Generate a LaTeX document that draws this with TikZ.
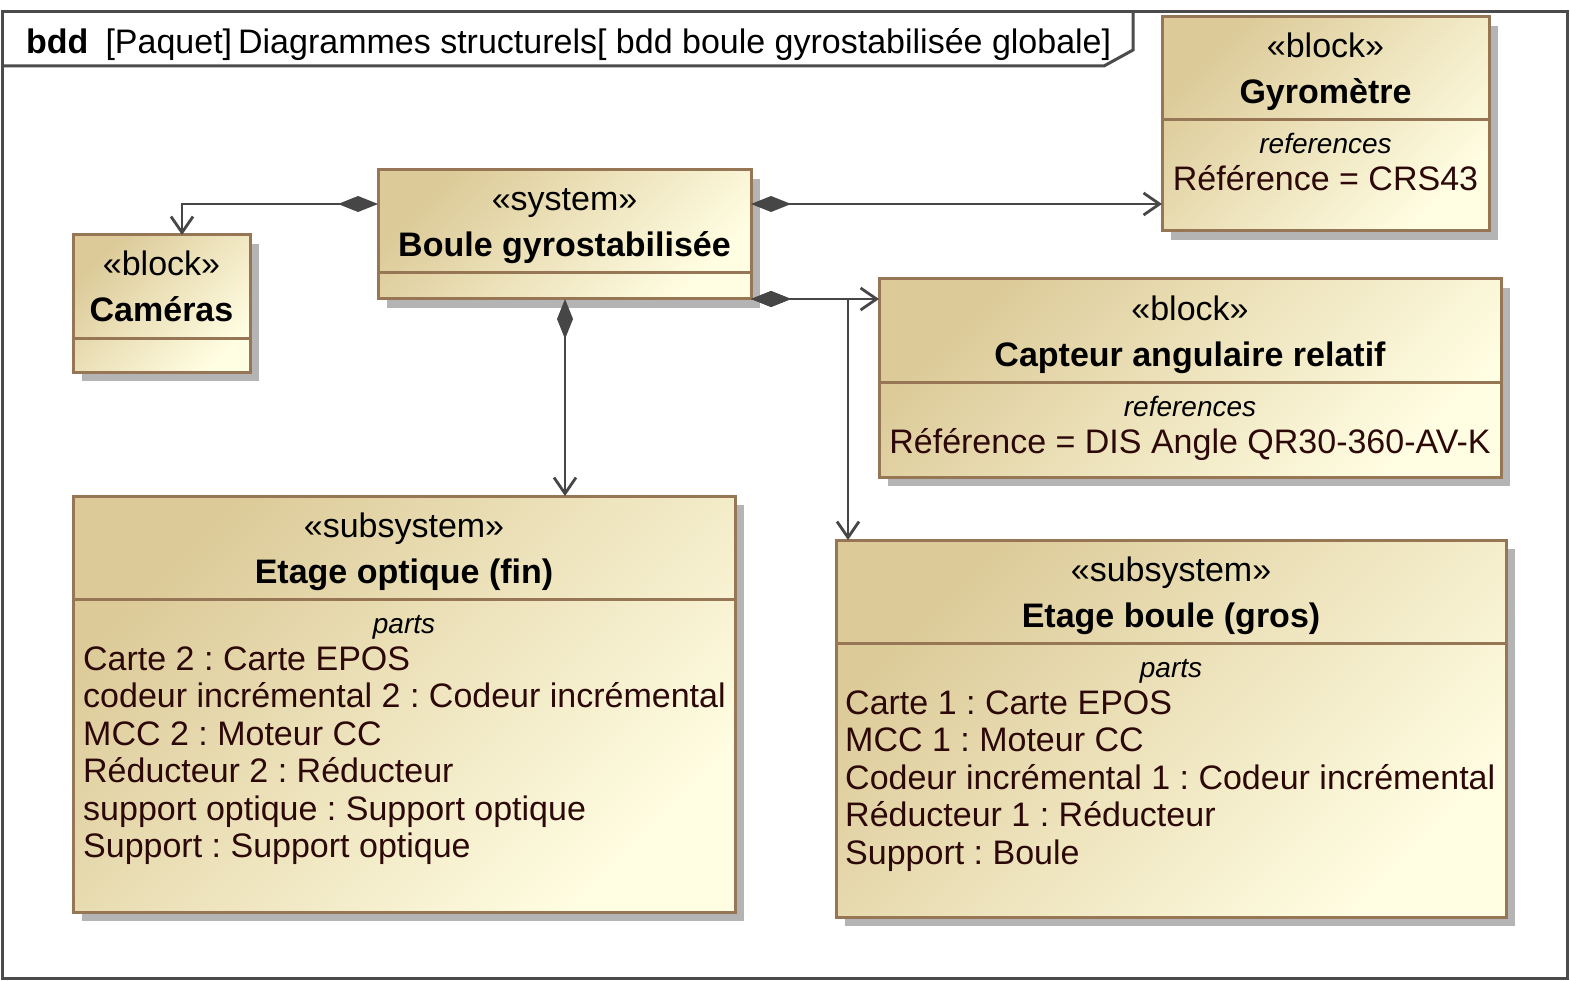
\documentclass[tikz,border=0pt]{standalone}
\usepackage{fontspec}
\setmainfont{Liberation Sans}
\usetikzlibrary{arrows.meta,shadows,calc}
\definecolor{tanA}{RGB}{220,202,152}
\definecolor{creamB}{RGB}{255,253,226}
\definecolor{brownline}{RGB}{150,118,84}
\definecolor{frameline}{RGB}{75,75,75}
\definecolor{conline}{RGB}{70,70,70}
\definecolor{shadowgray}{RGB}{180,180,180}
\definecolor{maroon}{RGB}{45,8,8}
\frenchspacing
\begin{document}
\begin{tikzpicture}[x=1pt,y=-1pt,
  sysbox/.style={draw=brownline,line width=3pt,left color=tanA,right color=creamB,shading angle=45,
    inner sep=0pt,outer sep=0pt,anchor=north west,
    drop shadow={shadow xshift=9pt,shadow yshift=-9pt,fill=shadowgray,opacity=1}},
  divline/.style={draw=brownline,line width=3pt},
  frameln/.style={draw=frameline,line width=3pt},
  stereo/.style={inner sep=0pt,anchor=base,font=\fontsize{34}{37.5}\selectfont,text=black},
  btitle/.style={inner sep=0pt,anchor=base,font=\fontsize{34}{37.5}\selectfont\bfseries,text=black},
  comph/.style={inner sep=0pt,anchor=base,font=\fontsize{28}{32}\selectfont\itshape,text=black},
  ctext/.style={inner sep=0pt,anchor=base,font=\fontsize{34}{37.5}\selectfont,text=maroon},
  itemtext/.style={inner sep=0pt,anchor=base west,font=\fontsize{34}{37.5}\selectfont,text=maroon},
  comp/.style={draw=conline,line width=2.8pt,
    {Diamond[length=40pt,width=16pt,fill=conline]}-{Straight Barb[length=16pt,width=22pt]}}
]
\useasboundingbox (0,0) rectangle (1570,981);
\fill[white] (0,0) rectangle (1570,981);

% frame
\draw[frameln] (2,12) rectangle (1567,978);
\draw[frameln] (2,66) -- (1104,66) -- (1133,50) -- (1133,12);
\node[inner sep=0pt,anchor=base west,font=\fontsize{34}{37.5}\selectfont] (hdr) at (26,54)
  {\textbf{bdd}\hspace{17pt}[Paquet]\hspace{6pt}Diagrammes structurels[ bdd boule gyrostabilisée globale]};

% boxes
\node[sysbox,minimum width=327pt,minimum height=214pt] (gyro) at (1162,17) {};
\node[sysbox,minimum width=373pt,minimum height=129pt] (boule) at (378,170) {};
\node[sysbox,minimum width=177pt,minimum height=137pt] (cam) at (73,235) {};
\node[sysbox,minimum width=622pt,minimum height=198pt] (capt) at (879,279) {};
\node[sysbox,minimum width=662pt,minimum height=416pt] (eopt) at (73,496) {};
\node[sysbox,minimum width=670pt,minimum height=377pt] (eboule) at (836,540) {};

% dividers
\foreach \b in {gyro,boule,cam,capt,eopt,eboule}{
  \draw[divline] ($(\b.north west)+(0,103)$) -- ($(\b.north east)+(0,103)$);
}

% Gyrometre
\node[stereo] (gyro-st) at ($(gyro.north)+(0,41)$) {«block»};
\node[btitle] (gyro-ti) at ($(gyro.north)+(0,87)$) {Gyromètre};
\node[comph] (gyro-ch) at ($(gyro.north)+(0,137)$) {references};
\node[ctext] (gyro-v) at ($(gyro.north)+(0,174)$) {Référence = CRS43};

% Boule
\node[stereo] (boule-st) at ($(boule.north)+(0,41)$) {«system»};
\node[btitle] (boule-ti) at ($(boule.north)+(0,87)$) {Boule gyrostabilisée};

% Cameras
\node[stereo] (cam-st) at ($(cam.north)+(0,41)$) {«block»};
\node[btitle] (cam-ti) at ($(cam.north)+(0,87)$) {Caméras};

% Capteur
\node[stereo] (capt-st) at ($(capt.north)+(0,41)$) {«block»};
\node[btitle] (capt-ti) at ($(capt.north)+(0,87)$) {Capteur angulaire relatif};
\node[comph] (capt-ch) at ($(capt.north)+(0,137)$) {references};
\node[ctext] (capt-v) at ($(capt.north)+(0,174)$) {Référence = DIS Angle QR30-360-AV-K};

% Etage optique
\node[stereo] (eopt-st) at ($(eopt.north)+(0,41)$) {«subsystem»};
\node[btitle] (eopt-ti) at ($(eopt.north)+(0,87)$) {Etage optique (fin)};
\node[comph] (eopt-ch) at ($(eopt.north)+(0,137)$) {parts};
\node[itemtext] (eopt-1) at ($(eopt.north west)+(10,174)$) {Carte 2 : Carte EPOS};
\node[itemtext] (eopt-2) at ($(eopt.north west)+(10,211.5)$) {codeur incrémental 2 : Codeur incrémental};
\node[itemtext] (eopt-3) at ($(eopt.north west)+(10,249)$) {MCC 2 : Moteur CC};
\node[itemtext] (eopt-4) at ($(eopt.north west)+(10,286.5)$) {Réducteur 2 : Réducteur};
\node[itemtext] (eopt-5) at ($(eopt.north west)+(10,324)$) {support optique : Support optique};
\node[itemtext] (eopt-6) at ($(eopt.north west)+(10,361.5)$) {Support : Support optique};

% Etage boule
\node[stereo] (eb-st) at ($(eboule.north)+(0,41)$) {«subsystem»};
\node[btitle] (eb-ti) at ($(eboule.north)+(0,87)$) {Etage boule (gros)};
\node[comph] (eb-ch) at ($(eboule.north)+(0,137)$) {parts};
\node[itemtext] (eb-1) at ($(eboule.north west)+(9,174)$) {Carte 1 : Carte EPOS};
\node[itemtext] (eb-2) at ($(eboule.north west)+(9,211.5)$) {MCC 1 : Moteur CC};
\node[itemtext] (eb-3) at ($(eboule.north west)+(9,249)$) {Codeur incrémental 1 : Codeur incrémental};
\node[itemtext] (eb-4) at ($(eboule.north west)+(9,286.5)$) {Réducteur 1 : Réducteur};
\node[itemtext] (eb-5) at ($(eboule.north west)+(9,324)$) {Support : Boule};

% connectors
\coordinate (bl) at ($(boule.north west)+(0,34)$);
\coordinate (br) at ($(boule.north east)+(0,34)$);
\coordinate (camtop) at ($(cam.north west)+(109,0)$);
\coordinate (ebtop) at ($(eboule.north west)+(12,0)$);
\coordinate (bbot) at ($(boule.south west)+(187,0)$);
\coordinate (eotop) at ($(eopt.north west)+(492,0)$);
\draw[comp] (bl) -| (camtop);
\draw[comp] (br) -- (gyro.west |- br);
\draw[comp] (boule.south east) -- (capt.west |- boule.south east);
\draw[comp] (boule.south east) -| (ebtop);
\draw[comp] (bbot) -- (eotop);
\end{tikzpicture}
\end{document}
